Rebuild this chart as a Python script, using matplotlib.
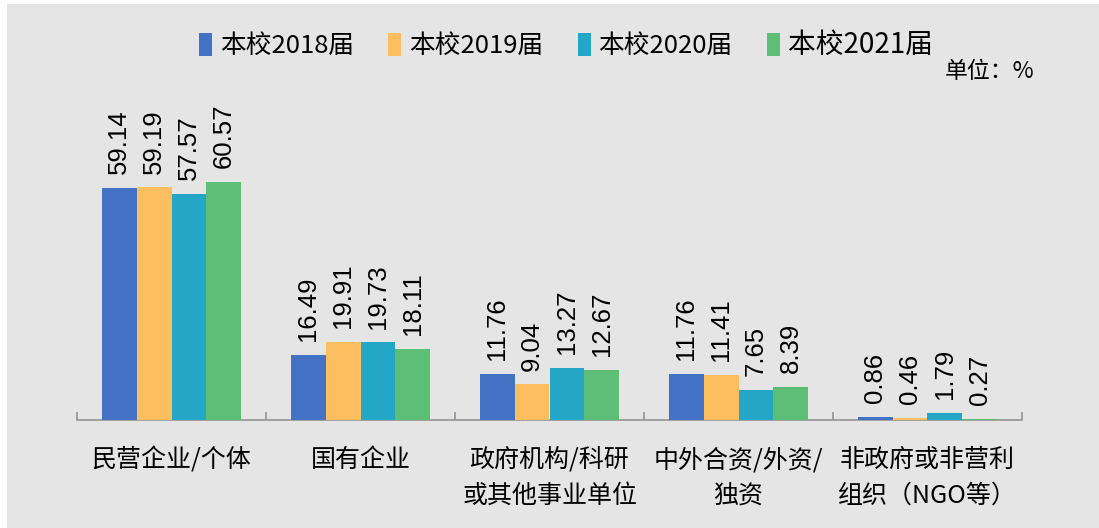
import numpy as np
import matplotlib as mpl
mpl.use('Agg')
import matplotlib.pyplot as plt
from matplotlib.patches import Rectangle

plt.rcParams['font.family'] = ['Noto Sans CJK SC', 'DejaVu Sans']

# data
categories = ['民营企业/个体', '国有企业', '政府机构/科研\n或其他事业单位',
              '中外合资/外资/\n独资', '非政府或非营利\n组织（NGO等）']
series_names = ['本校2018届', '本校2019届', '本校2020届', '本校2021届']
v2018 = [59.14, 16.49, 11.76, 11.76, 0.86]
v2019 = [59.19, 19.91, 9.04, 11.41, 0.46]
v2020 = [57.57, 19.73, 13.27, 7.65, 1.79]
v2021 = [60.57, 18.11, 12.67, 8.39, 0.27]
colors = ['#4472C4', '#FDBE5F', '#24A6C6', '#5DBF75']
unit_text = '单位：%'

W, H = 1099, 528
fig = plt.figure(figsize=(W / 100, H / 100), dpi=100, facecolor='white')
bg = Rectangle((7 / W, 0), 1 - 7 / W, 1 - 4 / H, transform=fig.transFigure,
               facecolor='#e5e5e5', edgecolor='none', zorder=-10)
fig.patches.append(bg)

ax = fig.add_axes([77 / W, 108 / H, 945 / W, 275 / H])
ax.set_facecolor('none')

x = np.arange(len(categories))
bw = 0.184
all_series = [v2018, v2019, v2020, v2021]
for i, (vals, c, name) in enumerate(zip(all_series, colors, series_names)):
    pos = x + (i - 1.5) * bw
    ax.bar(pos, vals, width=bw, color=c, label=name, zorder=3)
    for px_, v in zip(pos, vals):
        ax.annotate(f'{v:.2f}', (px_, v), xytext=(0, 10), textcoords='offset points',
                    rotation=90, ha='center', va='bottom', fontsize=18.5,
                    family='Liberation Sans', color='black', annotation_clip=False)

ax.set_xlim(-0.5, len(categories) - 0.5)
ax.set_ylim(0, 70)
for s in ['top', 'right', 'left']:
    ax.spines[s].set_visible(False)
ax.spines['bottom'].set_color('#9a9a9a')
ax.spines['bottom'].set_linewidth(1.3)
ax.set_yticks([])
ax.set_xticks(x)
ax.set_xticklabels(categories, fontsize=18, linespacing=1.5)
ax.tick_params(axis='x', which='major', length=0, pad=19.5)
ax.set_xticks(np.arange(-0.5, len(categories)), minor=True)
ax.tick_params(axis='x', which='minor', direction='in', length=6, width=1.3, color='#9a9a9a')

leg = fig.legend(loc='center', bbox_to_anchor=(566 / W, 1 - 45 / H), ncol=4, frameon=False,
                 fontsize=18.5, handlelength=0.5, handleheight=1.0, handletextpad=0.3,
                 columnspacing=1.35)
leg.get_texts()[3].set_fontsize(20)

fig.text(990 / W, 1 - 71 / H, unit_text, ha='center', va='center', fontsize=16.5)

plt.savefig('out.png', dpi=100, facecolor=fig.get_facecolor())
